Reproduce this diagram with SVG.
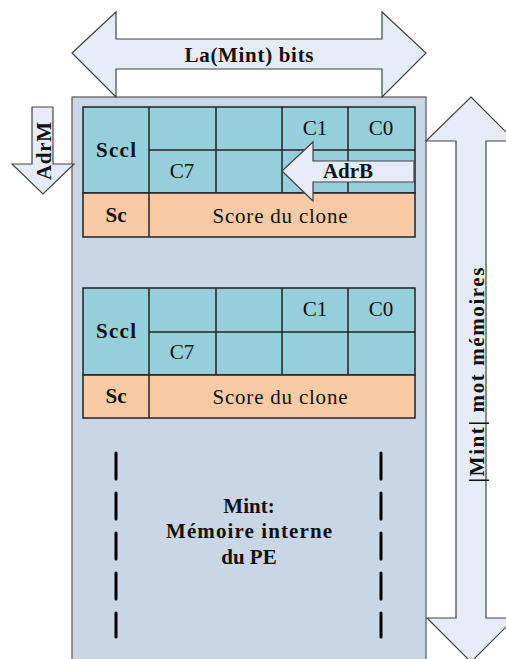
<svg xmlns="http://www.w3.org/2000/svg" width="506" height="659" viewBox="0 0 506 659">
<style>
.t{font-family:"Liberation Serif","Times New Roman",serif;font-size:21px;fill:#111;text-anchor:middle}
.b{font-weight:bold}
.teal{fill:#97cedb;stroke:#222;stroke-width:1.5}
.orng{fill:#f8cba6;stroke:#222;stroke-width:1.5}
.ln{stroke:#222;stroke-width:1.5;fill:none}
.arw{fill:#e5ecf6;stroke:#444;stroke-width:1.2;stroke-linejoin:miter}
.dash{stroke:#000;stroke-width:3;stroke-dasharray:26 14;stroke-linecap:round;fill:none}
</style>
<g id="mint">
<rect x="72" y="97" width="354" height="570" fill="#c9d6e5" stroke="#555" stroke-width="1.2"/>
<text class="t b" x="249" y="513">Mint:</text>
<text class="t b" x="249" y="538" textLength="166" lengthAdjust="spacing">Mémoire interne</text>
<text class="t b" x="249" y="564">du PE</text>
<line class="dash" x1="116" y1="453" x2="116" y2="637"/>
<line class="dash" x1="381" y1="453" x2="381" y2="637"/>
</g>
<g id="block1">
<rect class="teal" x="83" y="107" width="332" height="86"/>
<line class="ln" x1="149" y1="150" x2="415" y2="150"/>
<line class="ln" x1="149" y1="107" x2="149" y2="193"/>
<line class="ln" x1="216" y1="107" x2="216" y2="193"/>
<line class="ln" x1="282" y1="107" x2="282" y2="193"/>
<line class="ln" x1="348" y1="107" x2="348" y2="193"/>
<rect class="orng" x="83" y="193" width="332" height="44"/>
<line class="ln" x1="149" y1="193" x2="149" y2="237"/>
<text class="t b" x="116" y="157" textLength="40" lengthAdjust="spacing">Sccl</text>
<text class="t b" x="116" y="222">Sc</text>
<text class="t" x="315" y="135">C1</text>
<text class="t" x="381" y="135">C0</text>
<text class="t" x="182" y="178">C7</text>
<text class="t" x="280" y="223" textLength="135" lengthAdjust="spacing">Score du clone</text>
</g>
<g id="block2">
<rect class="teal" x="83" y="288" width="332" height="87"/>
<line class="ln" x1="149" y1="332" x2="415" y2="332"/>
<line class="ln" x1="149" y1="288" x2="149" y2="375"/>
<line class="ln" x1="216" y1="288" x2="216" y2="375"/>
<line class="ln" x1="282" y1="288" x2="282" y2="375"/>
<line class="ln" x1="348" y1="288" x2="348" y2="375"/>
<rect class="orng" x="83" y="375" width="332" height="43"/>
<line class="ln" x1="149" y1="375" x2="149" y2="418"/>
<text class="t b" x="116" y="338" textLength="40" lengthAdjust="spacing">Sccl</text>
<text class="t b" x="116" y="403">Sc</text>
<text class="t" x="315" y="316">C1</text>
<text class="t" x="381" y="316">C0</text>
<text class="t" x="182" y="359">C7</text>
<text class="t" x="280" y="404" textLength="135" lengthAdjust="spacing">Score du clone</text>
</g>
<g id="arrows">
<g id="width-arrow">
<polygon class="arw" points="72,53 116,12 116,39 382,39 382,12 426,53 382,97 382,69 116,69 116,97"/>
<text class="t b" x="249" y="62" textLength="129" lengthAdjust="spacing">La(Mint) bits</text>
</g>
<g id="adrM">
<polygon class="arw" points="32,107 53,107 53,164 74,164 43,194 12,164 32,164"/>
<text class="t b" transform="translate(51,151) rotate(-90)" textLength="58" lengthAdjust="spacing">AdrM</text>
</g>
<g id="adrB">
<polygon class="arw" points="282,171 313,142 313,161 414,161 414,182 313,182 313,201"/>
<text class="t b" x="348" y="178">AdrB</text>
</g>
<g id="height-arrow">
<polygon class="arw" points="471,97 515,141 486,141 486,618 515,618 471,662 427,618 456,618 456,141 426,141"/>
<text class="t b" transform="translate(484,375) rotate(-90)" textLength="215" lengthAdjust="spacing">|Mint|  mot mémoires</text>
</g>
</g>
</svg>
